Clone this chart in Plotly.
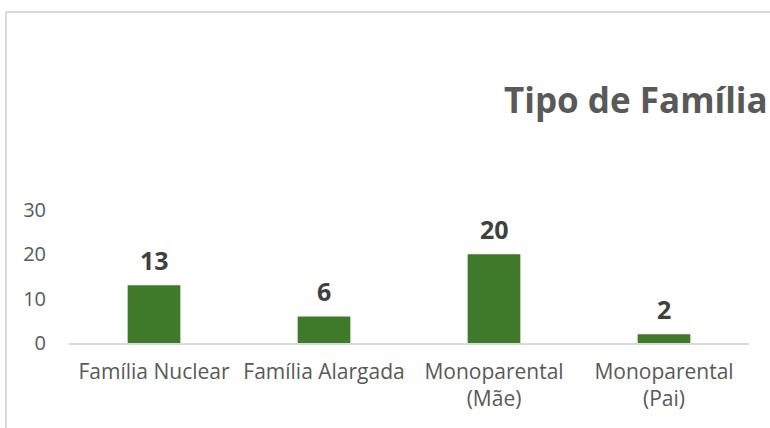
import plotly.graph_objects as go

categories = ["Família Nuclear", "Família Alargada", "Monoparental<br>(Mãe)", "Monoparental<br>(Pai)"]
values = [13, 6, 20, 2]
y_ticks = [0, 10, 20, 30]
title_text = "Tipo de Família"

bar_color = "#3f7a2b"
text_gray = "#595959"
label_dark = "#404040"
border = "#d9d9d9"
font_family = "Open Sans, sans-serif"

fig = go.Figure(go.Bar(
    x=categories, y=values, marker_color=bar_color, marker_line_width=0,
    width=0.31, hoverinfo="skip"))

for c, v in zip(categories, values):
    fig.add_annotation(x=c, y=v, text=f"<b>{v}</b>", showarrow=False,
                       yanchor="bottom", yshift=6,
                       font=dict(family=font_family, size=25, color=label_dark))

L, R, T, B = 69, 21, 210, 85
W, H = 770, 428
pw, ph = W - L - R, H - T - B
# frame lines (left and top) in paper coords
fig.add_shape(type="line", xref="paper", yref="paper",
              x0=(6 - L) / pw, x1=(6 - L) / pw, y0=(H - B - 12) / ph, y1=(H - B - 440) / ph,
              line=dict(color=border, width=2))
fig.add_shape(type="line", xref="paper", yref="paper",
              x0=(6 - L) / pw, x1=(800 - L) / pw, y0=(H - B - 12) / ph, y1=(H - B - 12) / ph,
              line=dict(color=border, width=2))

fig.update_layout(
    width=W, height=H,
    margin=dict(l=L, r=R, t=T, b=B),
    paper_bgcolor="white", plot_bgcolor="white",
    showlegend=False,
    font=dict(family=font_family, color=text_gray, size=20),
    title=dict(text=f"<b>{title_text}</b>", xref="container", yref="container",
               x=0.997, xanchor="right", y=1 - 101 / H, yanchor="middle",
               font=dict(family=font_family, size=35, color=text_gray)),
    xaxis=dict(showline=True, linecolor=border, linewidth=1.5, showgrid=False,
               ticks="", tickfont=dict(size=21, color=text_gray), ticklabelstandoff=9,
               fixedrange=True),
    yaxis=dict(range=[0, 30], tickvals=y_ticks, showgrid=False, zeroline=False,
               showline=False, ticks="", tickfont=dict(size=20, color=text_gray),
               ticklabelstandoff=22, fixedrange=True),
)

fig.write_html("out.html", config={"displayModeBar": False, "staticPlot": True},
               post_script="document.body.style.margin='0';document.body.style.overflow='hidden';")
